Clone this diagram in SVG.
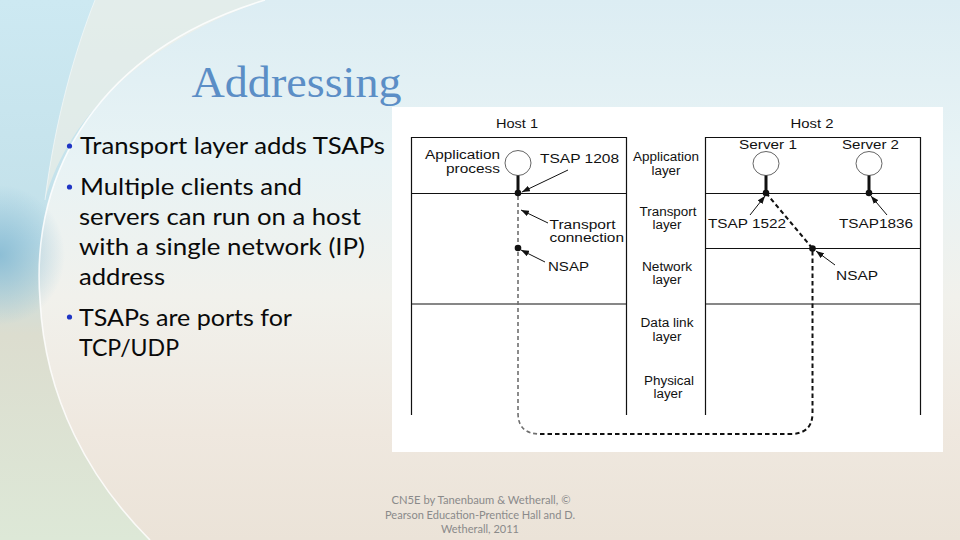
<svg xmlns="http://www.w3.org/2000/svg" width="960" height="540" viewBox="0 0 960 540">
  <defs>
    <linearGradient id="bg" x1="0" y1="0" x2="0" y2="1">
      <stop offset="0" stop-color="#dcedf3"/>
      <stop offset="0.3" stop-color="#e8f3f5"/>
      <stop offset="0.55" stop-color="#f1f1ec"/>
      <stop offset="0.8" stop-color="#efe8df"/>
      <stop offset="1" stop-color="#ebe3d8"/>
    </linearGradient>
    <linearGradient id="leftbg" x1="0" y1="0" x2="0" y2="1">
      <stop offset="0" stop-color="#cde9f2"/>
      <stop offset="0.45" stop-color="#c2e0e9"/>
      <stop offset="0.62" stop-color="#dcddcf"/>
      <stop offset="1" stop-color="#dde8d7"/>
    </linearGradient>
    <radialGradient id="glow" cx="0.5" cy="0.5" r="0.5">
      <stop offset="0" stop-color="#7fb6d1" stop-opacity="0.8"/>
      <stop offset="1" stop-color="#7fb6d1" stop-opacity="0"/>
    </radialGradient>
    <marker id="ah" markerWidth="8" markerHeight="6" refX="8" refY="3" orient="auto" markerUnits="userSpaceOnUse">
      <path d="M0,0 L8,3 L0,6 z" fill="#111"/>
    </marker>
    <style>
      .box { fill: none; stroke: #111; stroke-width: 1.2; }
      .lbl { font-family: "Liberation Sans", Arial, sans-serif; font-size: 12.5px; fill: #111; }
      .mid { text-anchor: middle; }
      .circ { fill: #fff; stroke: #555; stroke-width: 0.9; }
      .stem { stroke: #111; stroke-width: 3; }
      .dot { fill: #111; }
      .arrow { stroke: #111; stroke-width: 1; fill: none; marker-end: url(#ah); }
      .dashg { fill: none; stroke: #6f6f6f; stroke-width: 1.6; stroke-dasharray: 4 3; }
      .dashb { fill: none; stroke: #111; stroke-width: 2; stroke-dasharray: 4.5 3; }
      .body { font-family: "Lato", "Open Sans", sans-serif; font-size: 23px; fill: #0a0a0a; }
      .bullet { fill: #1f35c4; }
      .foot { font-family: "Lato", "Open Sans", sans-serif; font-size: 11px; fill: #8a8a8a; text-anchor: middle; }
    </style>
  </defs>

  <!-- background -->
  <g id="background">
    <rect x="0" y="0" width="960" height="540" fill="url(#bg)"/>
    <path d="M0,0 H265 C100,50 30,170 40,300 C45,400 90,480 150,540 H0 Z" fill="url(#leftbg)"/>
    <path d="M95,0 H265 C150,40 70,110 45,200 C55,120 75,50 95,0 Z" fill="#f2f0e6" opacity="0.6"/>
    <ellipse cx="0" cy="255" rx="65" ry="70" fill="url(#glow)"/>
    <path d="M265,0 C100,50 30,170 40,300 C45,400 90,480 150,540" fill="none" stroke="#ffffff" stroke-opacity="0.8" stroke-width="1.6"/>
    <path d="M95,0 C75,50 55,120 45,200" fill="none" stroke="#ffffff" stroke-opacity="0.5" stroke-width="1"/>
  </g>

  <!-- title and bullets -->
  <g id="title">
    <text x="191.5" y="97" font-family="Liberation Serif, Times New Roman, serif" font-size="45" fill="#5b8ec6" textLength="210" lengthAdjust="spacingAndGlyphs">Addressing</text>
  </g>
  <g id="bullets">
    <circle class="bullet" cx="69.5" cy="146" r="2.6"/>
    <text class="body" x="80" y="154" textLength="305" lengthAdjust="spacingAndGlyphs">Transport layer adds TSAPs</text>
    <circle class="bullet" cx="69.5" cy="187" r="2.6"/>
    <text class="body" x="80" y="195" textLength="222" lengthAdjust="spacingAndGlyphs">Multiple clients and</text>
    <text class="body" x="79" y="225" textLength="282" lengthAdjust="spacingAndGlyphs">servers can run on a host</text>
    <text class="body" x="79" y="255" textLength="286" lengthAdjust="spacingAndGlyphs">with a single network (IP)</text>
    <text class="body" x="79" y="285" textLength="86" lengthAdjust="spacingAndGlyphs">address</text>
    <circle class="bullet" cx="69.5" cy="317" r="2.6"/>
    <text class="body" x="79" y="326" textLength="213" lengthAdjust="spacingAndGlyphs">TSAPs are ports for</text>
    <text class="body" x="79" y="356" textLength="100" lengthAdjust="spacingAndGlyphs">TCP/UDP</text>
  </g>

  <!-- figure panel -->
  <g id="panel">
    <rect x="392" y="107" width="551" height="345" fill="#ffffff"/>
  </g>

  <!-- Host 1 -->
  <g id="host1">
    <text class="lbl" x="496" y="128" textLength="42" lengthAdjust="spacingAndGlyphs">Host 1</text>
    <path class="box" d="M411.5,415 V137.5 H626.5 V415 M411.5,193.5 H626.5 M411.5,304 H626.5"/>
    <text class="lbl" x="425" y="159" textLength="75" lengthAdjust="spacingAndGlyphs">Application</text>
    <text class="lbl" x="446" y="173" textLength="54" lengthAdjust="spacingAndGlyphs">process</text>
    <ellipse class="circ" cx="518" cy="163" rx="13" ry="12.5"/>
    <line class="stem" x1="518" y1="175.5" x2="518" y2="193"/>
    <text class="lbl" x="540" y="162.5" textLength="79" lengthAdjust="spacingAndGlyphs">TSAP 1208</text>
    <text class="lbl" x="549.5" y="229" textLength="66" lengthAdjust="spacingAndGlyphs">Transport</text>
    <text class="lbl" x="549.5" y="242" textLength="74.5" lengthAdjust="spacingAndGlyphs">connection</text>
    <text class="lbl" x="548" y="271" textLength="41" lengthAdjust="spacingAndGlyphs">NSAP</text>
  </g>

  <!-- layer names -->
  <g id="layers">
    <text class="lbl mid" x="666" y="161" textLength="66" lengthAdjust="spacingAndGlyphs">Application</text>
    <text class="lbl mid" x="666" y="175" textLength="29" lengthAdjust="spacingAndGlyphs">layer</text>
    <text class="lbl mid" x="668" y="216" textLength="57" lengthAdjust="spacingAndGlyphs">Transport</text>
    <text class="lbl mid" x="667" y="229" textLength="29" lengthAdjust="spacingAndGlyphs">layer</text>
    <text class="lbl mid" x="667" y="271" textLength="50" lengthAdjust="spacingAndGlyphs">Network</text>
    <text class="lbl mid" x="667" y="284" textLength="29" lengthAdjust="spacingAndGlyphs">layer</text>
    <text class="lbl mid" x="667" y="327" textLength="53" lengthAdjust="spacingAndGlyphs">Data link</text>
    <text class="lbl mid" x="667" y="341" textLength="29" lengthAdjust="spacingAndGlyphs">layer</text>
    <text class="lbl mid" x="669" y="385" textLength="50" lengthAdjust="spacingAndGlyphs">Physical</text>
    <text class="lbl mid" x="668" y="398" textLength="29" lengthAdjust="spacingAndGlyphs">layer</text>
  </g>

  <!-- Host 2 -->
  <g id="host2">
    <text class="lbl" x="790.5" y="128" textLength="43" lengthAdjust="spacingAndGlyphs">Host 2</text>
    <path class="box" d="M705.5,415 V137.5 H920.5 V415 M705.5,193.5 H920.5 M705.5,248.5 H920.5 M705.5,304 H920.5"/>
    <text class="lbl" x="739" y="149" textLength="58" lengthAdjust="spacingAndGlyphs">Server 1</text>
    <text class="lbl" x="842" y="149" textLength="57" lengthAdjust="spacingAndGlyphs">Server 2</text>
    <ellipse class="circ" cx="766" cy="163.5" rx="13" ry="12"/>
    <ellipse class="circ" cx="869" cy="163.5" rx="13" ry="12"/>
    <line class="stem" x1="766" y1="175.5" x2="766" y2="193"/>
    <line class="stem" x1="869" y1="175.5" x2="869" y2="193"/>
    <text class="lbl" x="708" y="227.5" textLength="78" lengthAdjust="spacingAndGlyphs">TSAP 1522</text>
    <text class="lbl" x="839" y="227.5" textLength="74" lengthAdjust="spacingAndGlyphs">TSAP1836</text>
    <text class="lbl" x="836" y="279.5" textLength="42" lengthAdjust="spacingAndGlyphs">NSAP</text>
  </g>

  <!-- connectors -->
  <g id="connectors">
    <path class="dashg" d="M518,196 V413 Q518,434 540,434"/>
    <path class="dashb" d="M540,434 H790 Q812.5,434 812.5,413 V250"/>
    <path class="dashb" d="M766,193 L812.5,248.5"/>
    <circle class="dot" cx="518" cy="193" r="3.3"/>
    <circle class="dot" cx="518" cy="248" r="3.3"/>
    <circle class="dot" cx="766" cy="193" r="3.3"/>
    <circle class="dot" cx="869" cy="193" r="3.3"/>
    <circle class="dot" cx="812.5" cy="248.5" r="3.3"/>
    <line class="arrow" x1="568" y1="170" x2="522" y2="192"/>
    <line class="arrow" x1="548" y1="223" x2="521" y2="210"/>
    <line class="arrow" x1="545" y1="262" x2="521" y2="250"/>
    <line class="arrow" x1="750" y1="215" x2="765" y2="196"/>
    <line class="arrow" x1="887" y1="215" x2="871" y2="196"/>
    <line class="arrow" x1="835" y1="265" x2="816" y2="251"/>
  </g>

  <!-- footer -->
  <g id="footer">
    <text class="foot" x="481" y="504" textLength="179" lengthAdjust="spacingAndGlyphs">CN5E by Tanenbaum &amp; Wetherall, ©</text>
    <text class="foot" x="480" y="519" textLength="190" lengthAdjust="spacingAndGlyphs">Pearson Education-Prentice Hall and D.</text>
    <text class="foot" x="480" y="533" textLength="78" lengthAdjust="spacingAndGlyphs">Wetherall, 2011</text>
  </g>
</svg>
